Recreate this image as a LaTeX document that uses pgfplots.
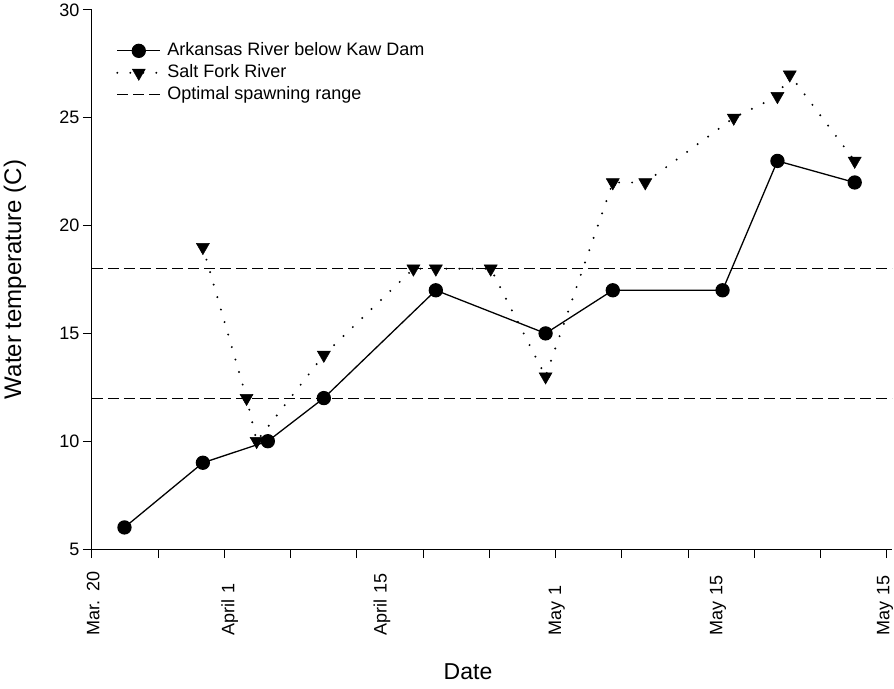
\documentclass[border=0pt]{standalone}
\usepackage{pgfplots}
\pgfplotsset{compat=1.18}
\usepackage{fontspec}
\setmainfont{Liberation Sans}

\begin{document}
\begin{tikzpicture}
\begin{axis}[
  scale only axis, width=800pt, height=539pt,
  xmin=0, xmax=71.43, ymin=5, ymax=30,
  axis x line*=bottom, axis y line*=left,
  axis line style={line width=1pt, -},
  tick align=outside, major tick length=9pt,
  tick style={line width=1pt, black},
  xtick={0,5.915,11.83,17.745,23.66,29.575,35.49,41.405,47.32,53.235,59.15,65.065,70.98},
  xticklabels={},
  extra x ticks={0.1,12.3,25.9,41.5,55.9,70.8},
  extra x tick labels={Mar. 20, April 1, April 15, May 1, May 15, May 15},
  extra x tick style={tick style={draw=none}, tick label style={rotate=90, anchor=east, text width=74pt, align=left}},
  ytick={5,10,15,20,25,30},
  tick label style={font=\fontsize{18}{20}\selectfont},
  /pgf/number format/assume math mode=true,
  ylabel={Water temperature (C)},
  xlabel={Date},
  every axis y label/.style={at={(axis description cs:-0.0963,0.5)}, rotate=90, anchor=center, font=\fontsize{24}{27}\selectfont},
  every axis x label/.style={at={(axis description cs:0.47,-0.243)}, anchor=base, font=\fontsize{23}{26}\selectfont},
  legend image code/.code={\draw[mark repeat=2,mark phase=2,#1] plot coordinates {(0pt,0pt) (21.5pt,0pt) (43pt,0pt)};},
  legend cell align=left,
  legend style={draw=none, fill=none, at={(rel axis cs:0.03,0.945)}, anchor=north west,
    font=\fontsize{18}{20}\selectfont, row sep=0pt, inner sep=0pt, column sep=5pt,
    nodes={text height=15pt, text depth=5pt, inner sep=1pt}},
]
\addplot[black, line width=0.9pt, dash pattern=on 11pt off 5pt, forget plot] coordinates {(0,18) (71.43,18)};
\addplot[black, line width=0.9pt, dash pattern=on 11pt off 5pt, forget plot] coordinates {(0,12) (71.43,12)};

\addplot[black, line width=1.3pt, mark=*, mark size=6.5pt, mark options={solid}] coordinates {
(2.9,6) (9.9,9) (15.7,10) (20.7,12) (30.7,17) (40.5,15) (46.5,17) (56.3,17) (61.2,23) (68.1,22)
};
\addlegendentry{Arkansas River below Kaw Dam}

\addplot[black, line width=2.2pt, line cap=round, dash pattern=on 0pt off 13pt, mark=triangle*, mark size=7.5pt, mark options={solid, rotate=180, line width=0.5pt}] coordinates {
(9.9,19) (13.8,12) (14.7,10) (20.7,14) (28.7,18) (30.7,18) (35.6,18) (40.5,13) (46.5,22) (49.4,22) (57.3,25) (61.2,26) (62.3,27) (68.1,23)
};
\addlegendentry{Salt Fork River}

\addlegendimage{black, line width=0.9pt, dash pattern=on 11pt off 5pt}
\addlegendentry{Optimal spawning range}

\coordinate (O) at (rel axis cs:0,0);
\end{axis}
\pgfresetboundingbox
\path[use as bounding box] (O) ++(-92pt,-139pt) rectangle ++(894pt,688pt);
\end{tikzpicture}
\end{document}
